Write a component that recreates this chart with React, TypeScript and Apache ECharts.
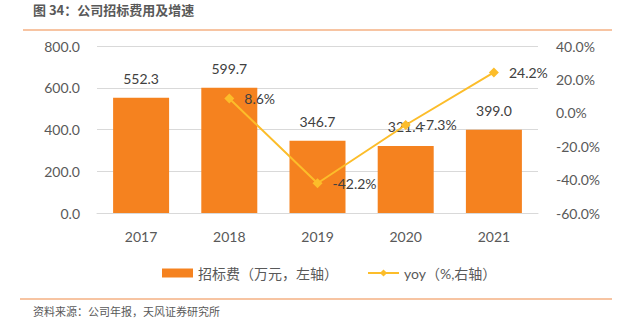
import React, { useEffect, useRef } from "react";
import * as echarts from "echarts";

const categories = ["2017", "2018", "2019", "2020", "2021"];
const feeValues = [552.3, 599.7, 346.7, 321.4, 399.0];
const yoyValues: (number | null)[] = [null, 8.6, -42.2, -7.3, 24.2];
const titleText = "图 34：公司招标费用及增速";
const sourceText = "资料来源：公司年报，天风证券研究所";
const feeName = "招标费（万元，左轴）";
const yoyName = "yoy（%,右轴）";

const FONT = "Lato, 'Open Sans', 'Noto Sans CJK SC', sans-serif";
const GREY = "#595959";
const DARK = "#404040";

export default function App() {
  const ref = useRef<HTMLDivElement>(null);
  useEffect(() => {
    if (!ref.current) return;
    const chart = echarts.init(ref.current, undefined, { renderer: "svg" });
    chart.setOption({
      animation: false,
      backgroundColor: "#ffffff",
      textStyle: { fontFamily: FONT },
      grid: { left: 97, right: 89, top: 46, bottom: 111, containLabel: false },
      legend: {
        left: 157,
        top: 261,
        itemWidth: 31,
        itemHeight: 9,
        itemGap: 29,
        textStyle: { fontSize: 14, color: GREY, fontFamily: FONT },
        data: [
          { name: feeName, icon: "rect" },
          { name: yoyName },
        ],
      },
      xAxis: {
        type: "category",
        data: categories,
        axisLine: { lineStyle: { color: "#D9D9D9" } },
        axisTick: { show: false },
        axisLabel: { fontSize: 14, color: GREY, margin: 16, fontFamily: FONT },
      },
      yAxis: [
        {
          type: "value",
          min: 0,
          max: 800,
          interval: 200,
          axisLine: { show: false },
          axisTick: { show: false },
          splitLine: { lineStyle: { color: "#D9D9D9" } },
          axisLabel: {
            fontSize: 14,
            color: GREY,
            margin: 17,
            fontFamily: FONT,
            formatter: (v: number) => v.toFixed(1),
          },
        },
        {
          type: "value",
          min: -60,
          max: 40,
          interval: 20,
          axisLine: { show: false },
          axisTick: { show: false },
          splitLine: { show: false },
          axisLabel: {
            fontSize: 14,
            color: GREY,
            margin: 18,
            fontFamily: FONT,
            formatter: (v: number) => v.toFixed(1) + "%",
          },
        },
      ],
      series: [
        {
          name: feeName,
          type: "bar",
          data: feeValues,
          barWidth: 56,
          itemStyle: { color: "#F5821F" },
          label: {
            show: true,
            position: "top",
            distance: 12,
            fontSize: 14,
            color: DARK,
            fontFamily: FONT,
            formatter: (p: any) => Number(p.value).toFixed(1),
          },
        },
        {
          name: yoyName,
          type: "line",
          yAxisIndex: 1,
          data: yoyValues,
          symbol: "diamond",
          symbolSize: 10,
          connectNulls: false,
          lineStyle: { color: "#FCBD2A", width: 2 },
          itemStyle: { color: "#FCBD2A" },
          label: {
            show: true,
            position: "right",
            distance: 10,
            fontSize: 14,
            color: DARK,
            fontFamily: FONT,
            formatter: (p: any) => Number(p.value).toFixed(1) + "%",
          },
        },
      ],
      graphic: [
        {
          type: "text",
          left: 33,
          top: 3,
          style: {
            text: titleText,
            fontSize: 13,
            fontWeight: "bold",
            fill: GREY,
            fontFamily: "'Noto Sans CJK SC', sans-serif",
          },
        },
        {
          type: "line",
          shape: { x1: 23, y1: 30, x2: 612, y2: 30 },
          style: { stroke: "#F4B183", lineWidth: 1.5 },
        },
        {
          type: "line",
          shape: { x1: 20, y1: 299, x2: 612, y2: 299 },
          style: { stroke: "#F4B183", lineWidth: 1.5 },
        },
        {
          type: "text",
          left: 33,
          top: 305,
          style: {
            text: sourceText,
            fontSize: 11,
            fill: GREY,
            fontFamily: "'Noto Sans CJK SC', sans-serif",
          },
        },
      ],
    });
    return () => chart.dispose();
  }, []);
  return (
    <div
      ref={ref}
      style={{ position: "fixed", left: 0, top: 0, width: 627, height: 324 }}
    />
  );
}
